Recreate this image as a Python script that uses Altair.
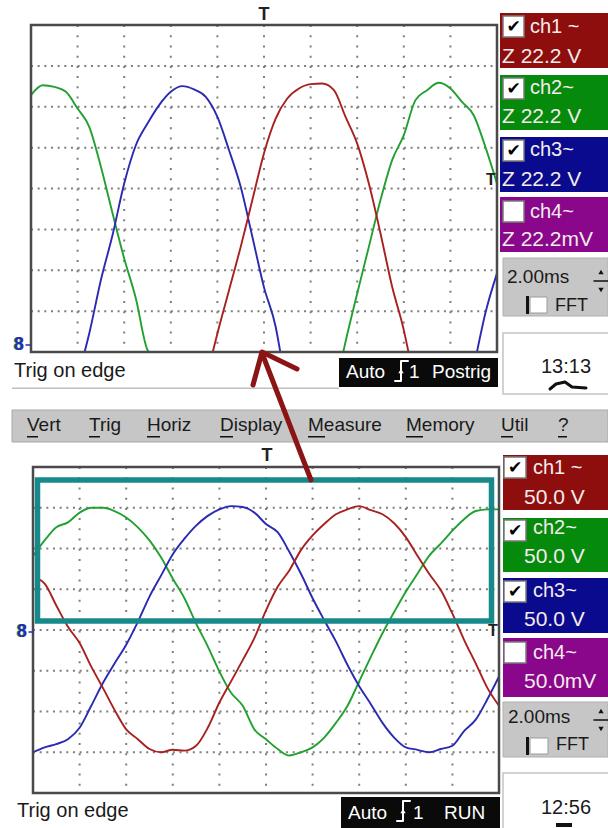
import altair as alt
import pandas as pd

# ---------------- waveform samples (ms, volts) ----------------
# Upper view: zoomed trace, 22.2 V/div, lower edge of the screen = 4.9 V
top_green_a_ms = [0, 0.5, 1, 1.5, 2, 2.5, 3, 3.5, 4, 4.5, 5, 5.05]
top_green_a_v = [144.4, 149.8, 148.9, 146.2, 137.1, 127.2, 105.5, 80.2, 55.7, 34.0, 6.0, 4.9]
top_green_b_ms = [13.4, 13.5, 14, 14.5, 15, 15.5, 16, 16.5, 17, 17.5, 18, 18.5, 19, 19.5, 20]
top_green_b_v = [4.9, 10.5, 36.7, 62.0, 87.4, 109.1, 122.7, 141.7, 147.1, 151.1, 148.0, 140.7, 133.5, 116.3, 96.4]
top_blue_a_ms = [2.3, 2.5, 3, 3.5, 4, 4.5, 5, 5.5, 6, 6.5, 7, 7.5, 8, 8.5, 9, 9.5, 10, 10.5, 10.7]
top_blue_a_v = [4.9, 15.0, 44.0, 68.4, 96.4, 117.2, 129.0, 139.0, 146.2, 149.3, 147.5, 143.5, 132.6, 114.5,
                94.6, 67.5, 40.0, 18.6, 4.9]
top_blue_b_ms = [19.14, 19.5, 20]
top_blue_b_v = [4.9, 25.9, 47.6]
top_red_ms = [7.8, 8, 8.5, 9, 9.5, 10, 10.5, 11, 11.5, 12, 12.5, 13, 13.5, 14, 14.5, 15, 15.5, 16, 16.2]
top_red_v = [4.9, 15.0, 38.5, 62.0, 87.4, 112.9, 131.7, 142.6, 148.0, 150.4, 150.7, 147.1, 132.6, 118.1,
             96.4, 69.3, 40.3, 16.8, 4.9]

# Lower view: full trace, 50 V/div
bot_ms = [0, 0.5, 1, 1.5, 2, 2.5, 3, 3.5, 4, 4.5, 5, 5.5, 6, 6.5, 7, 7.5, 8, 8.5, 9, 9.5, 10,
          10.5, 11, 11.5, 12, 12.5, 13, 13.5, 14, 14.5, 15, 15.5, 16, 16.5, 17, 17.5, 18, 18.5, 19, 19.5, 20]
bot_green_v = [91, 110, 126, 132, 144, 150, 150, 146, 138, 126, 110, 89, 63, 39, 8, -20, -51, -77, -93, -122, -134,
               -146, -154, -150, -144, -132, -114, -93, -63, -33, -4, 22, 47, 69, 91, 106, 122, 136, 146, 148, 148]
bot_blue_v = [-150, -144, -140, -134, -120, -93, -65, -41, -18, 10, 41, 67, 93, 112, 128, 140, 148, 152, 151, 144, 130,
              120, 96, 69, 39, 12, -14, -43, -69, -91, -114, -132, -144, -147, -150, -146, -142, -124, -110, -85, -57]
bot_red_ms = [0.2, 0.5, 1, 1.5, 2, 2.5, 3, 3.5, 4, 4.5, 5, 5.5, 6, 6.5, 7, 7.5, 8, 8.5, 9, 9.5, 10,
              10.5, 11, 11.5, 12, 12.5, 13, 13.5, 14, 14.5, 15, 15.5, 16, 16.5, 17, 17.5, 18, 18.5, 19, 19.5, 20]
bot_red_v = [63, 57, 30, 4, -16, -45, -71, -98, -122, -134, -146, -150, -147, -148, -142, -120, -89, -63, -37, -10, 24,
             53, 73, 98, 116, 130, 142, 148, 152, 147, 142, 131, 114, 91, 69, 49, 20, -12, -41, -71, -93]

# graticule divisions
grid_ms = [2, 4, 6, 8, 10, 12, 14, 16, 18]
top_grid_v = [27.1, 49.3, 71.5, 93.7, 115.9, 138.1, 160.3]
bot_grid_v = [-150, -100, -50, 0, 50, 100, 150]

channels = ["ch1", "ch2", "ch3"]
trace_colors = ["#a82020", "#22a030", "#2a2ab2"]


def seg(ch, name, ms, volts):
    return pd.DataFrame({"t": ms, "v": volts, "ch": ch, "seg": name})


top_df = pd.concat([
    seg("ch2", "g1", top_green_a_ms, top_green_a_v),
    seg("ch2", "g2", top_green_b_ms, top_green_b_v),
    seg("ch3", "b1", top_blue_a_ms, top_blue_a_v),
    seg("ch3", "b2", top_blue_b_ms, top_blue_b_v),
    seg("ch1", "r1", top_red_ms, top_red_v),
])
bot_df = pd.concat([
    seg("ch2", "g", bot_ms, bot_green_v),
    seg("ch3", "b", bot_ms, bot_blue_v),
    seg("ch1", "r", bot_red_ms, bot_red_v),
])

top_x = alt.Scale(domain=[0, 20], range=[31, 497], nice=False, zero=False)
top_y = alt.Scale(domain=[4.9, 182.5], range=[352, 25], nice=False, zero=False)
bot_x = alt.Scale(domain=[0, 20], range=[33, 499], nice=False, zero=False)
bot_y = alt.Scale(domain=[-200, 200], range=[793, 467], nice=False, zero=False)
color_scale = alt.Scale(domain=channels, range=trace_colors)

one = pd.DataFrame({"k": [0]})
DOT = "#7e7e7e"


def grid_rows(levels, ys, x0, x1):
    return alt.Chart(pd.DataFrame({"v": levels})).mark_rule(
        color=DOT, strokeWidth=2, strokeDash=[2, 4.66]
    ).encode(y=alt.Y("v:Q", scale=ys, axis=None), x=alt.value(x0), x2=alt.value(x1))


def grid_cols(xs, y0, y1):
    return alt.Chart(pd.DataFrame({"t": grid_ms})).mark_rule(
        color=DOT, strokeWidth=2, strokeDash=[2, 8.22]
    ).encode(x=alt.X("t:Q", scale=xs, axis=None), y=alt.value(y0), y2=alt.value(y1))


def traces(df, xs, ys):
    return alt.Chart(df).mark_line(strokeWidth=1.9, interpolate="monotone").encode(
        x=alt.X("t:Q", scale=xs, axis=None),
        y=alt.Y("v:Q", scale=ys, axis=None),
        color=alt.Color("ch:N", scale=color_scale, legend=None),
        detail="seg:N",
    )


def frame(x0, x1, y0, y1, color="#4a4a4a", width=2.5):
    return alt.Chart(one).mark_rect(fillOpacity=0, stroke=color, strokeWidth=width).encode(
        x=alt.value(x0), x2=alt.value(x1), y=alt.value(y0), y2=alt.value(y1)
    )


# ---------------- instrument panel furniture ----------------
C1, C2, C3, C4 = "#8e0e0e", "#068a0c", "#0a0a8e", "#8a068a"
GRAY = "#c6c6c6"
BLACK = "#111111"
panels = pd.DataFrame([
    # menu bar and status separator
    (12, 608, 410, 442, GRAY, "#a8a8a8", 1),
    (12, 339, 387.5, 389, "#c0c0c0", "#c0c0c0", 0),
    # upper channel boxes
    (500, 608, 13, 68, C1, C1, 0),
    (500, 608, 75, 130, C2, C2, 0),
    (500, 608, 137, 192, C3, C3, 0),
    (500, 608, 197, 252, C4, C4, 0),
    (503, 608, 258, 316, GRAY, "#b0b0b0", 1),
    (526, 529, 296, 314, BLACK, BLACK, 0),
    (530, 547, 297, 313, "#ffffff", "#9a9a9a", 1),
    (503, 612, 333, 394, "#ffffff", "#c4c4c4", 1.5),
    (339, 498, 358, 387, "#0a0a0a", "#0a0a0a", 0),
    # lower channel boxes
    (503, 608, 455, 510, C1, C1, 0),
    (503, 608, 518, 572, C2, C2, 0),
    (503, 608, 578, 633, C3, C3, 0),
    (503, 608, 638, 697, C4, C4, 0),
    (503, 608, 702, 757, GRAY, "#b0b0b0", 1),
    (526, 529, 737, 755, BLACK, BLACK, 0),
    (530, 548, 738, 754, "#ffffff", "#9a9a9a", 1),
    (503, 612, 773, 830, "#ffffff", "#c4c4c4", 1.5),
    (341, 500, 797, 828, "#0a0a0a", "#0a0a0a", 0),
    (556, 572, 823, 827, BLACK, BLACK, 0),
    # check boxes
    (503, 524, 16, 37, "#ffffff", "#7a7a7a", 1.5),
    (503, 524, 78, 99, "#ffffff", "#7a7a7a", 1.5),
    (503, 524, 140, 161, "#ffffff", "#7a7a7a", 1.5),
    (503, 524, 201, 222, "#ffffff", "#7a7a7a", 1.5),
    (504, 526, 457, 478, "#ffffff", "#7a7a7a", 1.5),
    (504, 526, 520, 541, "#ffffff", "#7a7a7a", 1.5),
    (504, 526, 581, 602, "#ffffff", "#7a7a7a", 1.5),
    (504, 526, 642, 663, "#ffffff", "#7a7a7a", 1.5),
    # menu accelerator underlines
    (27, 38, 436, 437.5, BLACK, BLACK, 0),
    (89, 100, 436, 437.5, BLACK, BLACK, 0),
    (147, 160, 436, 437.5, BLACK, BLACK, 0),
    (220, 233, 436, 437.5, BLACK, BLACK, 0),
    (308, 325, 436, 437.5, BLACK, BLACK, 0),
    (406, 423, 436, 437.5, BLACK, BLACK, 0),
    (501, 513, 436, 437.5, BLACK, BLACK, 0),
    (558, 567, 436, 437.5, BLACK, BLACK, 0),
], columns=["x", "x2", "y", "y2", "fill", "stroke", "sw"])

panel_layer = alt.Chart(panels).mark_rect().encode(
    x=alt.X("x:Q", scale=None), x2="x2:Q",
    y=alt.Y("y:Q", scale=None), y2="y2:Q",
    fill=alt.Fill("fill:N", scale=None),
    stroke=alt.Stroke("stroke:N", scale=None),
    strokeWidth=alt.StrokeWidth("sw:Q", scale=None),
)

LBL = "#f4ecec"
INK = "#1a1a1a"
WHITE = "#ffffff"
labels = pd.DataFrame([
    ("Trig on edge", 14, 371, INK, 20),
    ("Auto", 346, 372, WHITE, 19),
    ("1", 409, 372, WHITE, 19),
    ("Postrig", 432, 372, WHITE, 19),
    ("ch1 ~", 530, 27, LBL, 20), ("Z 22.2 V", 502, 57, LBL, 21),
    ("ch2~", 530, 88, LBL, 20), ("Z 22.2 V", 502, 117, LBL, 21),
    ("ch3~", 530, 150, LBL, 20), ("Z 22.2 V", 502, 180, LBL, 21),
    ("ch4~", 530, 212, LBL, 20), ("Z 22.2mV", 502, 240, LBL, 21),
    ("2.00ms", 507, 277, INK, 19),
    ("FFT", 555, 306, INK, 18),
    ("13:13", 541, 367, INK, 20),
    ("Vert", 27, 425, INK, 19), ("Trig", 89, 425, INK, 19), ("Horiz", 147, 425, INK, 19),
    ("Display", 220, 425, INK, 19), ("Measure", 308, 425, INK, 19), ("Memory", 406, 425, INK, 19),
    ("Util", 501, 425, INK, 19), ("?", 558, 425, INK, 19),
    ("Trig on edge", 17, 811, INK, 20),
    ("Auto", 348, 813, WHITE, 19),
    ("1", 413, 813, WHITE, 19),
    ("RUN", 444, 813, WHITE, 19),
    ("ch1 ~", 533, 468, LBL, 20), ("50.0 V", 524, 498, LBL, 21),
    ("ch2~", 533, 528, LBL, 20), ("50.0 V", 524, 557, LBL, 21),
    ("ch3~", 533, 591, LBL, 20), ("50.0 V", 524, 620, LBL, 21),
    ("ch4~", 533, 653, LBL, 20), ("50.0mV", 524, 682, LBL, 21),
    ("2.00ms", 508, 717, INK, 19),
    ("FFT", 556, 745, INK, 18),
    ("12:56", 541, 808, INK, 20),
], columns=["text", "x", "y", "color", "size"])

markers = pd.DataFrame([
    ("T", 264, 15, "#222222", 18),
    ("T", 491, 180, "#222222", 16),
    ("T", 267, 456, "#222222", 18),
    ("T", 493, 631, "#222222", 16),
    ("8", 18, 345, "#22a030", 18),
    ("8", 19, 345, "#2a2ab2", 18),
    ("8", 21, 632, "#22a030", 18),
    ("8", 22, 632, "#2a2ab2", 18),
], columns=["text", "x", "y", "color", "size"])

checks = pd.DataFrame([
    ("\u2714", 513.5, 27, "#000000", 17),
    ("\u2714", 513.5, 89, "#000000", 17),
    ("\u2714", 513.5, 151, "#000000", 17),
    ("\u2714", 515, 468, "#000000", 17),
    ("\u2714", 515, 531, "#000000", 17),
    ("\u2714", 515, 592, "#000000", 17),
], columns=["text", "x", "y", "color", "size"])


def text_layer(df, align, font, weight="normal"):
    return alt.Chart(df).mark_text(align=align, baseline="middle", font=font, fontWeight=weight).encode(
        x=alt.X("x:Q", scale=None), y=alt.Y("y:Q", scale=None),
        text="text:N",
        color=alt.Color("color:N", scale=None),
        size=alt.Size("size:Q", scale=None),
    )


def path_layer(points, color, width):
    df = pd.DataFrame(points, columns=["id", "k", "x", "y"])
    return alt.Chart(df).mark_line(color=color, strokeWidth=width, strokeCap="round", strokeJoin="round").encode(
        x=alt.X("x:Q", scale=None), y=alt.Y("y:Q", scale=None),
        detail="id:N", order="k:Q",
    )


edge_symbols = path_layer([
    ("a", 0, 395, 381), ("a", 1, 401, 381), ("a", 2, 401, 361), ("a", 3, 408, 361),
    ("b", 0, 397, 821), ("b", 1, 403, 821), ("b", 2, 403, 801), ("b", 3, 410, 801),
], WHITE, 2)

squiggle = path_layer([
    ("s", 0, 550, 389), ("s", 1, 556, 384), ("s", 2, 565, 382), ("s", 3, 572, 387), ("s", 4, 586, 388),
], BLACK, 3)

spinner_lines = path_layer([
    ("u", 0, 594, 281), ("u", 1, 608, 281),
    ("d", 0, 594, 720), ("d", 1, 608, 720),
], BLACK, 1.5)

ground_ticks = path_layer([
    ("g1", 0, 26, 345), ("g1", 1, 30, 345),
    ("g2", 0, 29, 632), ("g2", 1, 33, 632),
], "#2a2ab2", 1.5)

triangles = pd.DataFrame([
    (401, 371, "triangle-up", WHITE),
    (403, 811, "triangle-up", WHITE),
    (601, 272, "triangle-up", BLACK),
    (601, 290, "triangle-down", BLACK),
    (601, 711, "triangle-up", BLACK),
    (601, 729, "triangle-down", BLACK),
], columns=["x", "y", "shape", "color"])
triangle_layer = alt.Chart(triangles).mark_point(filled=True, size=28, opacity=1).encode(
    x=alt.X("x:Q", scale=None), y=alt.Y("y:Q", scale=None),
    shape=alt.Shape("shape:N", scale=None),
    color=alt.Color("color:N", scale=None),
)

# zoom window on the lower screen and the arrow up to the zoomed view
zoom_box = frame(37.5, 491.5, 480, 621, color="#18898a", width=5.5)
arrow = path_layer([
    ("shaft", 0, 311, 480), ("shaft", 1, 262, 353),
    ("head", 0, 253, 385), ("head", 1, 262, 352), ("head", 2, 297, 369),
], "#8b1414", 5)

layers = [
    panel_layer,
    grid_cols(top_x, 25, 352), grid_rows(top_grid_v, top_y, 31, 497),
    grid_cols(bot_x, 467, 793), grid_rows(bot_grid_v, bot_y, 33, 499),
    traces(top_df, top_x, top_y),
    traces(bot_df, bot_x, bot_y),
    frame(31, 497, 25, 352),
    frame(33, 499, 467, 793),
    zoom_box,
    text_layer(labels, "left", "Liberation Sans"),
    text_layer(markers, "center", "Liberation Sans", "bold"),
    text_layer(checks, "center", "DejaVu Sans"),
    edge_symbols, squiggle, spinner_lines, ground_ticks, triangle_layer,
    arrow,
]

chart = alt.layer(*layers).resolve_scale(
    x="independent", y="independent"
).properties(
    width=608, height=828, padding=0,
    autosize=alt.AutoSizeParams(type="none"),
    background="white",
).configure_view(stroke=None)

chart.save("out.html", embed_options={"renderer": "svg", "actions": False})
